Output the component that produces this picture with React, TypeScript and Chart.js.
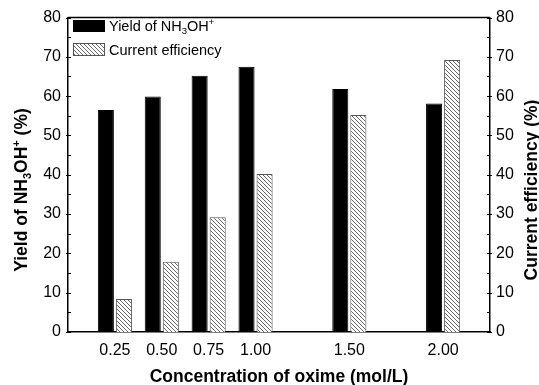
import React, { useEffect, useRef } from 'react';
import { Chart, registerables } from 'chart.js';

Chart.register(...registerables);

// ---- data ----
const concentrations = [0.25, 0.5, 0.75, 1.0, 1.5, 2.0];
const yieldValues = [56.5, 59.9, 65.2, 67.5, 61.8, 58.1];
const efficiencyValues = [8.4, 17.9, 29.2, 40.2, 55.2, 69.2];
const yTickValues = [0, 10, 20, 30, 40, 50, 60, 70, 80];
const yMinorValues = [5, 15, 25, 35, 45, 55, 65, 75];

const FONT = "'Liberation Sans', Arial, Helvetica, sans-serif";

type Seg = { t: string; size: number; dy?: number; bold?: boolean };

function drawRich(ctx: CanvasRenderingContext2D, segs: Seg[], x: number, y: number, align: 'left' | 'center') {
  let total = 0;
  const widths: number[] = [];
  for (const s of segs) {
    ctx.font = `${s.bold ? 'bold ' : ''}${s.size}px ${FONT}`;
    const w = ctx.measureText(s.t).width;
    widths.push(w);
    total += w;
  }
  let cx = align === 'center' ? x - total / 2 : x;
  ctx.textAlign = 'left';
  segs.forEach((s, i) => {
    ctx.font = `${s.bold ? 'bold ' : ''}${s.size}px ${FONT}`;
    ctx.fillText(s.t, cx, y + (s.dy || 0));
    cx += widths[i];
  });
}

function makeHatch(): CanvasPattern | string {
  const c = document.createElement('canvas');
  c.width = 4;
  c.height = 4;
  const g = c.getContext('2d');
  if (!g) return '#bbb';
  g.fillStyle = '#fff';
  g.fillRect(0, 0, 4, 4);
  g.strokeStyle = '#666';
  g.lineWidth = 1;
  g.beginPath();
  g.moveTo(-1, -1);
  g.lineTo(5, 5);
  g.moveTo(-1, 3);
  g.lineTo(1, 5);
  g.moveTo(3, -1);
  g.lineTo(5, 1);
  g.stroke();
  return g.createPattern(c, 'repeat') || '#bbb';
}

const decorPlugin = {
  id: 'decor',
  afterDraw(chart: any) {
    const ctx: CanvasRenderingContext2D = chart.ctx;
    const { left, right, top, bottom } = chart.chartArea;
    const y = chart.scales.y;
    const y1 = chart.scales.y1;
    ctx.save();
    ctx.strokeStyle = '#000';
    ctx.fillStyle = '#000';
    // top frame line
    ctx.lineWidth = 1.5;
    ctx.beginPath();
    ctx.moveTo(left, top);
    ctx.lineTo(right, top);
    ctx.stroke();
    // ticks
    ctx.lineWidth = 1;
    ctx.beginPath();
    for (const v of yTickValues) {
      const py = Math.round(y.getPixelForValue(v)) + 0.5;
      ctx.moveTo(left - 2, py);
      ctx.lineTo(left + 3, py);
      const py1 = Math.round(y1.getPixelForValue(v)) + 0.5;
      ctx.moveTo(right + 2, py1);
      ctx.lineTo(right - 3, py1);
    }
    for (const v of yMinorValues) {
      const py = Math.round(y.getPixelForValue(v)) + 0.5;
      ctx.moveTo(left, py);
      ctx.lineTo(left + 3, py);
      const py1 = Math.round(y1.getPixelForValue(v)) + 0.5;
      ctx.moveTo(right, py1);
      ctx.lineTo(right - 3, py1);
    }
    ctx.stroke();

    // legend
    const ds = chart.data.datasets;
    const boxes = [
      { y0: 20, h: 12, ds: ds[0], label: [
        { t: 'Yield of NH', size: 14.5 },
        { t: '3', size: 9.5, dy: 3 },
        { t: 'OH', size: 14.5 },
        { t: '+', size: 9.5, dy: -6 },
      ] as Seg[] },
      { y0: 43, h: 13, ds: ds[1], label: [{ t: 'Current efficiency', size: 14.5 }] as Seg[] },
    ];
    for (const b of boxes) {
      ctx.fillStyle = b.ds.backgroundColor;
      ctx.fillRect(left + 5, b.y0, 32, b.h);
      ctx.strokeStyle = b.ds.borderColor;
      ctx.lineWidth = 1;
      ctx.strokeRect(left + 5.5, b.y0 + 0.5, 31, b.h - 1);
      ctx.fillStyle = '#000';
      ctx.textBaseline = 'alphabetic';
      drawRich(ctx, b.label, left + 41, b.y0 + b.h / 2 + 5, 'left');
    }

    // axis titles
    ctx.fillStyle = '#000';
    ctx.textBaseline = 'alphabetic';
    drawRich(ctx, [{ t: 'Concentration of oxime (mol/L)', size: 17.5, bold: true }], (left + right) / 2, 382, 'center');

    ctx.save();
    ctx.translate(27, 190);
    ctx.rotate(-Math.PI / 2);
    drawRich(ctx, [
      { t: 'Yield of NH', size: 17.5, bold: true },
      { t: '3', size: 11, dy: 4, bold: true },
      { t: 'OH', size: 17.5, bold: true },
      { t: '+', size: 11, dy: -7, bold: true },
      { t: ' (%)', size: 17.5, bold: true },
    ], 0, 0, 'center');
    ctx.restore();

    ctx.save();
    ctx.translate(537, 190);
    ctx.rotate(-Math.PI / 2);
    drawRich(ctx, [{ t: 'Current efficiency (%)', size: 17.5, bold: true }], 0, 0, 'center');
    ctx.restore();

    ctx.restore();
  },
};

export default function App() {
  const ref = useRef<HTMLCanvasElement | null>(null);
  useEffect(() => {
    if (!ref.current) return;
    const hatch = makeHatch();
    const chart = new Chart(ref.current, {
      type: 'bar',
      data: {
        datasets: [
          {
            label: 'Yield of NH3OH+',
            data: concentrations.map((c, i) => ({ x: c, y: yieldValues[i] })),
            backgroundColor: '#000',
            borderColor: '#000',
            borderWidth: 1,
            yAxisID: 'y',
            categoryPercentage: 0.77,
            barPercentage: 0.89,
          },
          {
            label: 'Current efficiency',
            data: concentrations.map((c, i) => ({ x: c, y: efficiencyValues[i] })),
            backgroundColor: hatch as any,
            borderColor: '#555',
            borderWidth: 1,
            yAxisID: 'y1',
            categoryPercentage: 0.77,
            barPercentage: 0.89,
          },
        ],
      } as any,
      options: {
        animation: false,
        responsive: false,
        layout: { padding: { top: 17.5, left: 0, right: 0, bottom: 0 } },
        plugins: { legend: { display: false }, tooltip: { enabled: false } },
        scales: {
          x: {
            type: 'linear',
            min: 0,
            max: 2.25,
            offset: false,
            grid: { display: false, drawTicks: false, offset: false },
            border: { display: true, color: '#000', width: 1.5 },
            afterBuildTicks: (scale: any) => {
              scale.ticks = concentrations.map((v) => ({ value: v }));
            },
            afterFit: (scale: any) => {
              scale.height = 53;
            },
            ticks: {
              padding: 9,
              color: '#000',
              font: { family: FONT, size: 16 },
              maxRotation: 0,
              autoSkip: false,
              callback: (v: any) => Number(v).toFixed(2),
            },
          },
          y: {
            type: 'linear',
            position: 'left',
            min: 0,
            max: 80,
            grid: { display: false, drawTicks: false },
            border: { display: true, color: '#000', width: 1.5 },
            afterFit: (scale: any) => {
              scale.width = 68;
            },
            ticks: {
              stepSize: 10,
              padding: 7,
              color: '#000',
              font: { family: FONT, size: 16 },
            },
          },
          y1: {
            type: 'linear',
            position: 'right',
            min: 0,
            max: 80,
            grid: { display: false, drawTicks: false },
            border: { display: true, color: '#000', width: 1.5 },
            afterFit: (scale: any) => {
              scale.width = 49;
            },
            ticks: {
              stepSize: 10,
              padding: 6,
              color: '#000',
              font: { family: FONT, size: 16 },
            },
          },
        },
      } as any,
      plugins: [decorPlugin],
    });
    return () => chart.destroy();
  }, []);
  return (
    <div style={{ position: 'fixed', left: 0, top: 0, width: 539, height: 385, background: '#fff' }}>
      <canvas ref={ref} width={539} height={385} style={{ width: 539, height: 385, display: 'block' }} />
    </div>
  );
}
